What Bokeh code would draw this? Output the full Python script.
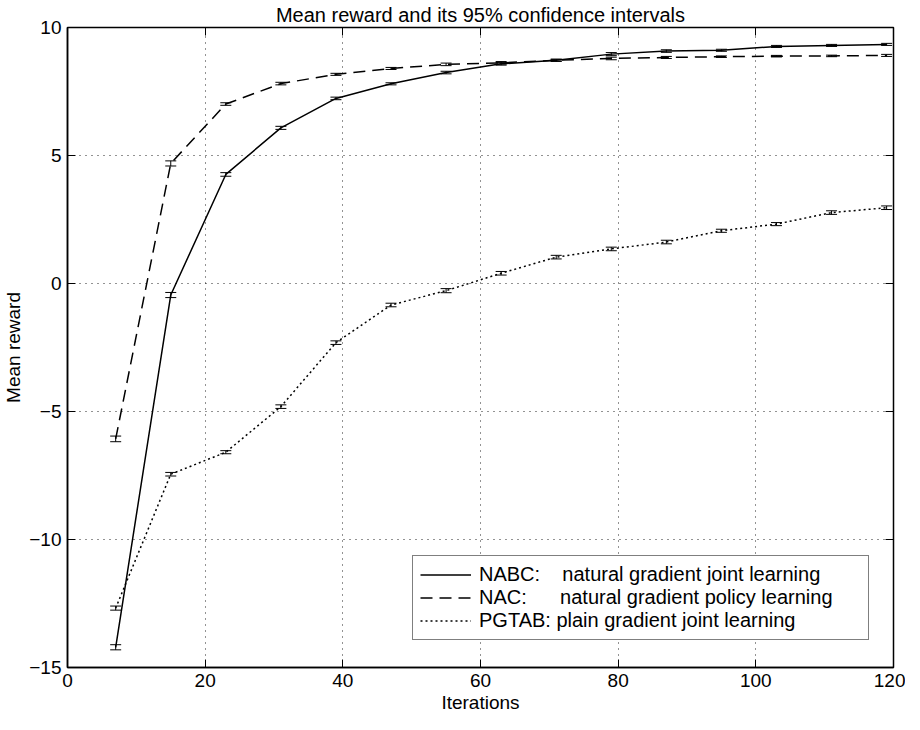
from bokeh.plotting import figure
from bokeh.models import (Whisker, TeeHead, ColumnDataSource, FixedTicker, Legend,
                          LegendItem, LinearAxis)
from bokeh.embed import file_html
from bokeh.resources import INLINE

# ---------------- data ----------------
iterations = [7, 15, 23, 31, 39, 47, 55, 63, 71, 79, 87, 95, 103, 111, 119]
nabc_mean = [-14.21, -0.45, 4.26, 6.08, 7.23, 7.80, 8.24, 8.58, 8.72, 8.96, 9.08, 9.11, 9.26, 9.30, 9.34]
nabc_err = [0.10, 0.10, 0.07, 0.06, 0.05, 0.04, 0.05, 0.05, 0.04, 0.06, 0.05, 0.04, 0.04, 0.04, 0.04]
nac_mean = [-6.07, 4.69, 7.01, 7.81, 8.17, 8.40, 8.56, 8.62, 8.72, 8.79, 8.83, 8.86, 8.88, 8.89, 8.91]
nac_err = [0.11, 0.10, 0.05, 0.05, 0.04, 0.04, 0.05, 0.05, 0.04, 0.05, 0.04, 0.03, 0.03, 0.03, 0.04]
pgtab_mean = [-12.68, -7.45, -6.59, -4.81, -2.31, -0.84, -0.28, 0.40, 1.03, 1.35, 1.62, 2.06, 2.32, 2.77, 2.96]
pgtab_err = [0.08, 0.07, 0.06, 0.07, 0.07, 0.07, 0.08, 0.07, 0.07, 0.07, 0.07, 0.06, 0.06, 0.07, 0.07]

x_ticks = [0, 20, 40, 60, 80, 100, 120]
y_ticks = [-15, -10, -5, 0, 5, 10]
y_tick_labels = {-15: "\u221215", -10: "\u221210", -5: "\u22125", 0: "0", 5: "5", 10: "10"}

nbsp = "\u00a0"
labels = [
    "NABC:" + nbsp * 4 + "natural gradient joint learning",
    "NAC:" + nbsp * 6 + "natural gradient policy learning",
    "PGTAB: plain gradient joint learning",
]
title_text = "Mean reward and its 95% confidence intervals"

FONT = "Liberation Sans"

p = figure(width=905, height=722, x_range=(0, 120), y_range=(-15, 10),
           output_backend="svg", toolbar_location=None,
           min_border_left=64, min_border_right=12, min_border_top=26, min_border_bottom=55)

p.title.text = title_text
p.title.align = "center"
p.title.text_font = FONT
p.title.text_font_size = "20px"
p.title.text_font_style = "normal"
p.title.text_color = "black"
p.title.standoff = 3

p.outline_line_color = "black"
p.outline_line_width = 1.5
p.background_fill_color = "white"
p.border_fill_color = "white"

for ax in (p.xaxis[0], p.yaxis[0]):
    ax.axis_line_color = "black"
    ax.axis_line_width = 1.5
    ax.major_tick_in = 8
    ax.major_tick_out = 0
    ax.minor_tick_line_color = None
    ax.major_tick_line_color = "black"
    ax.major_tick_line_width = 1
    ax.major_label_text_font = FONT
    ax.major_label_text_font_size = "19px"
    ax.major_label_text_color = "black"
    ax.axis_label_text_font = FONT
    ax.axis_label_text_font_size = "19px"
    ax.axis_label_text_font_style = "normal"
    ax.axis_label_text_color = "black"

p.xaxis[0].ticker = FixedTicker(ticks=x_ticks)
p.yaxis[0].ticker = FixedTicker(ticks=y_ticks)
p.yaxis[0].major_label_overrides = y_tick_labels
p.xaxis[0].axis_label = "Iterations"
p.yaxis[0].axis_label = "Mean reward"
p.xaxis[0].major_label_standoff = 6
p.yaxis[0].major_label_standoff = 6
p.xaxis[0].axis_label_standoff = 2
p.yaxis[0].axis_label_standoff = 2

# box-style inner ticks on the top and right edges (no labels)
top_ax = LinearAxis(ticker=FixedTicker(ticks=x_ticks))
right_ax = LinearAxis(ticker=FixedTicker(ticks=y_ticks))
for ax, ticks in ((top_ax, x_ticks), (right_ax, y_ticks)):
    ax.major_label_overrides = {t: "" for t in ticks}
    ax.major_label_standoff = 0
    ax.major_tick_in = 8
    ax.major_tick_out = 0
    ax.major_tick_line_color = "black"
    ax.minor_tick_line_color = None
    ax.axis_line_color = None
p.add_layout(top_ax, "above")
p.add_layout(right_ax, "right")

p.xgrid.ticker = FixedTicker(ticks=x_ticks)
p.ygrid.ticker = FixedTicker(ticks=y_ticks)
p.grid.grid_line_color = "black"
p.grid.grid_line_dash = "1 5"
p.grid.grid_line_width = 1
p.grid.grid_line_alpha = 0.85

series = [
    (nabc_mean, nabc_err, "solid"),
    (nac_mean, nac_err, "12 7"),
    (pgtab_mean, pgtab_err, "2 3"),
]

items = []
for (mean, err, dash), lab in zip(series, labels):
    src = ColumnDataSource(dict(
        x=iterations, y=mean,
        lower=[m - e for m, e in zip(mean, err)],
        upper=[m + e for m, e in zip(mean, err)],
    ))
    r = p.line("x", "y", source=src, line_color="black", line_width=1.5, line_dash=dash)
    w = Whisker(base="x", lower="lower", upper="upper", source=src,
                line_color="black", line_width=1,
                lower_head=TeeHead(size=11, line_color="black", line_width=1),
                upper_head=TeeHead(size=11, line_color="black", line_width=1))
    p.add_layout(w)
    items.append(LegendItem(label=lab, renderers=[r]))

legend = Legend(items=items, location=(345, 27))
legend.border_line_color = "black"
legend.border_line_width = 1.5
legend.background_fill_color = "white"
legend.background_fill_alpha = 1
legend.label_text_font = FONT
legend.label_text_font_size = "20px"
legend.label_text_color = "black"
legend.padding = 7
legend.spacing = 0
legend.margin = 0
legend.glyph_width = 51
legend.glyph_height = 23
legend.label_height = 23
legend.label_standoff = 8
legend.label_width = 382
p.add_layout(legend, "center")

open("out.html", "w").write(file_html(p, INLINE))
